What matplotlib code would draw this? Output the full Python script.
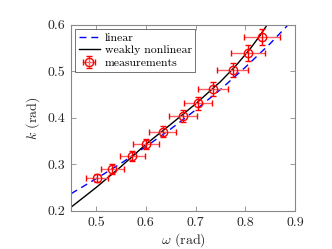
import matplotlib
matplotlib.use("Agg")
import matplotlib.pyplot as plt

# curves (omega, k)
w_lin = [0.45, 0.50, 0.55, 0.60, 0.65, 0.70, 0.75, 0.80, 0.85, 0.90]
k_lin = [0.237, 0.269, 0.302, 0.338, 0.376, 0.417, 0.461, 0.509, 0.560, 0.616]

w_nl = [0.45, 0.50, 0.55, 0.60, 0.65, 0.70, 0.75, 0.78, 0.81, 0.83, 0.845]
k_nl = [0.208, 0.250, 0.295, 0.343, 0.386, 0.430, 0.478, 0.511, 0.549, 0.578, 0.602]

# measurements with error bars
w_meas = [0.502, 0.533, 0.573, 0.601, 0.634, 0.674, 0.705, 0.735, 0.775, 0.806, 0.834]
k_meas = [0.271, 0.290, 0.318, 0.344, 0.370, 0.404, 0.432, 0.462, 0.503, 0.540, 0.574]
w_err = [0.022, 0.023, 0.025, 0.026, 0.027, 0.028, 0.029, 0.030, 0.031, 0.034, 0.036]
k_err = [0.009, 0.010, 0.011, 0.011, 0.012, 0.013, 0.014, 0.015, 0.016, 0.017, 0.018]

xticks = [0.5, 0.6, 0.7, 0.8, 0.9]
yticks = [0.2, 0.3, 0.4, 0.5, 0.6]

plt.rcParams["font.family"] = "serif"
plt.rcParams["font.serif"] = ["cmr10"]
plt.rcParams["mathtext.fontset"] = "cm"
plt.rcParams["axes.formatter.use_mathtext"] = True

fig = plt.figure(figsize=(3.32, 2.49), dpi=100)
ax = fig.add_axes([0.214, 0.153, 0.675, 0.747])

ln_lin, = ax.plot(w_lin, k_lin, color="#0000ff", ls=(0, (5, 3.5)), lw=1.0)
ln_nl, = ax.plot(w_nl, k_nl, color="black", lw=1.0)

meas = ax.errorbar(w_meas, k_meas, xerr=w_err, yerr=k_err, fmt="o", color="red",
                   mfc="none", mec="red", ms=6, mew=1.0, ecolor="red",
                   elinewidth=1.0, capsize=2, capthick=1.0)
# horizontal bars lighter than the vertical ones
meas.lines[2][0].set_color("#ff6060")
for cap in meas.lines[1][:2]:
    cap.set_color("#ff6060")

ax.set_xlim(0.45, 0.9)
ax.set_ylim(0.2, 0.6)
ax.set_xticks(xticks)
ax.set_yticks(yticks)
ax.set_xticklabels([f"{v:.1f}" for v in xticks])
ax.set_yticklabels([f"{v:.1f}" for v in yticks])

for s in ax.spines.values():
    s.set_color("#888888")
    s.set_linewidth(0.8)
ax.tick_params(direction="in", top=True, right=True, length=3.5, width=0.6,
               color="#888888", labelcolor="#262626", labelsize=10, pad=4)

ax.set_xlabel(r"$\omega$ (rad)", fontsize=10, color="#262626", labelpad=2)
ax.set_ylabel(r"$k$ (rad)", fontsize=10, color="#262626", labelpad=4)

leg = ax.legend([ln_lin, ln_nl, meas], ["linear", "weakly nonlinear", "measurements"],
                loc="upper left", fontsize=8.5, frameon=True, fancybox=False,
                borderpad=0.3, labelspacing=0.2, handlelength=1.8, handletextpad=0.4,
                borderaxespad=0.35)
leg.get_frame().set_edgecolor("#333333")
leg.get_frame().set_linewidth(0.6)

fig.savefig("out.png", dpi=100)
